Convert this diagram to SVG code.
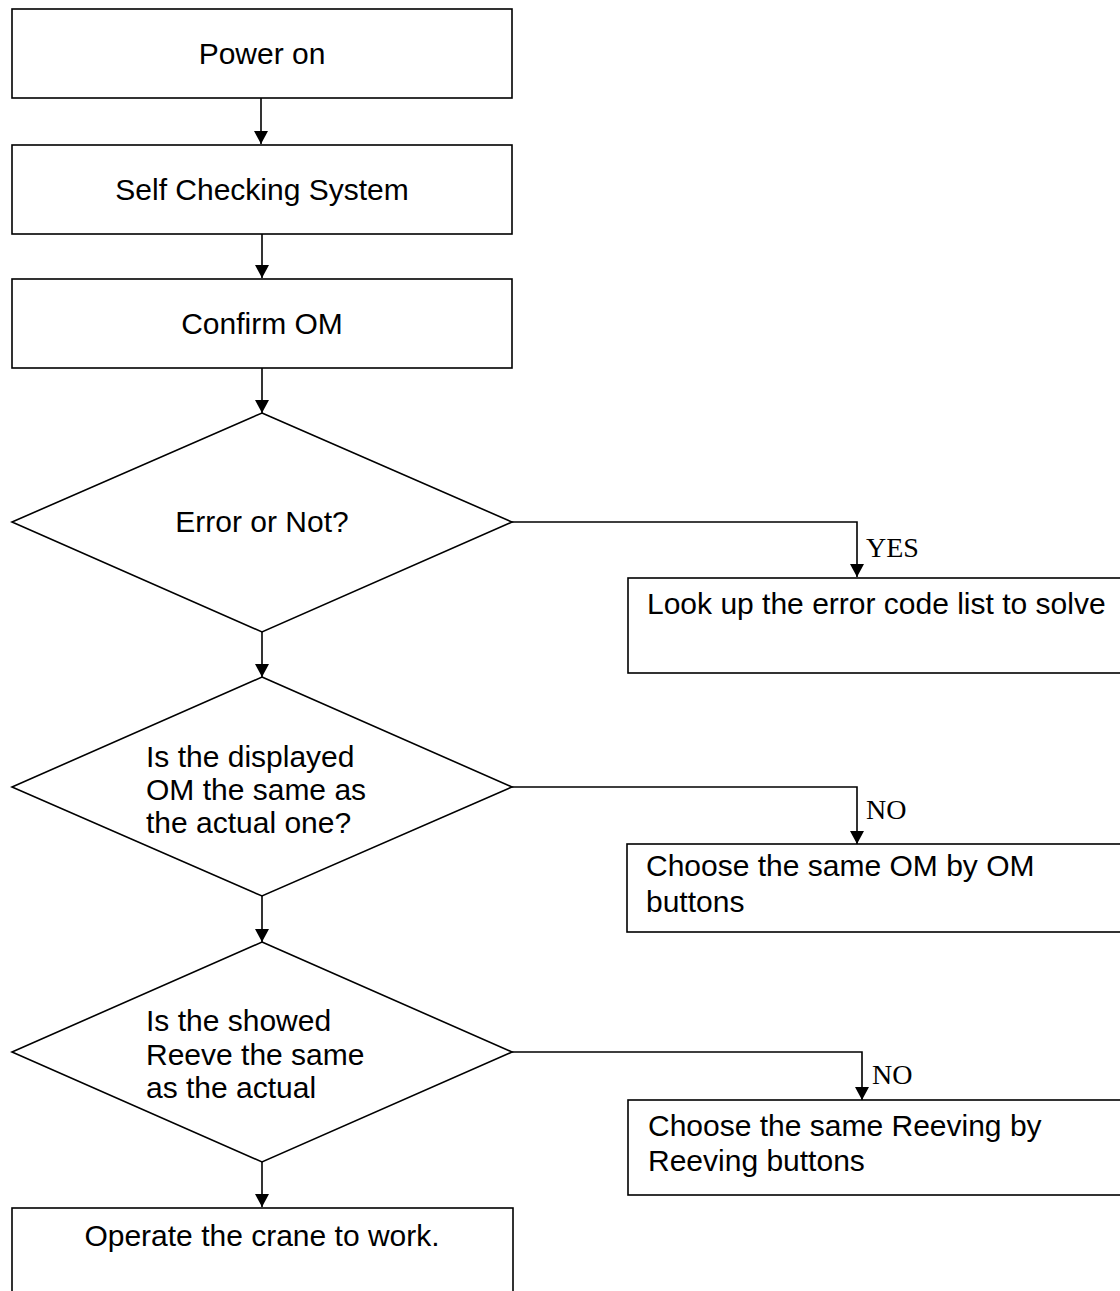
<svg xmlns="http://www.w3.org/2000/svg" width="1120" height="1291" viewBox="0 0 1120 1291">
<defs>
<marker id="ah" viewBox="0 0 13 14" refX="13" refY="7" markerWidth="13" markerHeight="14" markerUnits="userSpaceOnUse" orient="auto">
<path d="M0,0 L13,7 L0,14 Z" fill="#000"/>
</marker>
<style>
.box{fill:#fff;stroke:#000;stroke-width:1.6}
.t{font-family:"Liberation Sans",Arial,sans-serif;font-size:30px;fill:#000}
.c{text-anchor:middle}
.s{font-family:"Liberation Serif","Times New Roman",serif;font-size:28px;fill:#000}
.ln{fill:none;stroke:#000;stroke-width:1.6}
</style>
</defs>
<rect width="1120" height="1291" fill="#fff"/>
<g id="connectors">
<line class="ln" x1="261" y1="98" x2="261" y2="144" marker-end="url(#ah)"/>
<line class="ln" x1="262" y1="234" x2="262" y2="278" marker-end="url(#ah)"/>
<line class="ln" x1="262" y1="368" x2="262" y2="413" marker-end="url(#ah)"/>
<line class="ln" x1="262" y1="632" x2="262" y2="677" marker-end="url(#ah)"/>
<line class="ln" x1="262" y1="896" x2="262" y2="942" marker-end="url(#ah)"/>
<line class="ln" x1="262" y1="1162" x2="262" y2="1207" marker-end="url(#ah)"/>
<polyline class="ln" points="512,522 857,522 857,577" marker-end="url(#ah)"/>
<polyline class="ln" points="512,787 857,787 857,844" marker-end="url(#ah)"/>
<polyline class="ln" points="512,1052 862,1052 862,1100" marker-end="url(#ah)"/>
<text class="s" x="866" y="557">YES</text>
<text class="s" x="866" y="819">NO</text>
<text class="s" x="872" y="1084">NO</text>
</g>
<g id="power-on">
<rect class="box" x="12" y="9" width="500" height="89"/>
<text class="t c" x="262" y="64">Power on</text>
</g>
<g id="self-check">
<rect class="box" x="12" y="145" width="500" height="89"/>
<text class="t c" x="262" y="200">Self Checking System</text>
</g>
<g id="confirm-om">
<rect class="box" x="12" y="279" width="500" height="89"/>
<text class="t c" x="262" y="334">Confirm OM</text>
</g>
<g id="error-decision">
<polygon class="box" points="262,413 512,522 262,632 12,522"/>
<text class="t c" x="262" y="532">Error or Not?</text>
</g>
<g id="error-lookup">
<rect class="box" x="628" y="578" width="520" height="95"/>
<text class="t" x="647" y="614">Look up the error code list to solve</text>
</g>
<g id="om-decision">
<polygon class="box" points="262,677 512,787 262,896 12,787"/>
<text class="t" x="146" y="767">Is the displayed</text>
<text class="t" x="146" y="800">OM the same as</text>
<text class="t" x="146" y="833">the actual one?</text>
</g>
<g id="choose-om">
<rect class="box" x="627" y="844" width="520" height="88"/>
<text class="t" x="646" y="876">Choose the same OM by OM</text>
<text class="t" x="646" y="912">buttons</text>
</g>
<g id="reeve-decision">
<polygon class="box" points="262,942 512,1052 262,1162 12,1052"/>
<text class="t" x="146" y="1031">Is the showed</text>
<text class="t" x="146" y="1065">Reeve the same</text>
<text class="t" x="146" y="1098">as the actual</text>
</g>
<g id="choose-reeving">
<rect class="box" x="628" y="1100" width="520" height="95"/>
<text class="t" x="648" y="1136">Choose the same Reeving by</text>
<text class="t" x="648" y="1171">Reeving buttons</text>
</g>
<g id="operate">
<rect class="box" x="12" y="1208" width="501" height="120"/>
<text class="t c" x="262" y="1246">Operate the crane to work.</text>
</g>
</svg>
